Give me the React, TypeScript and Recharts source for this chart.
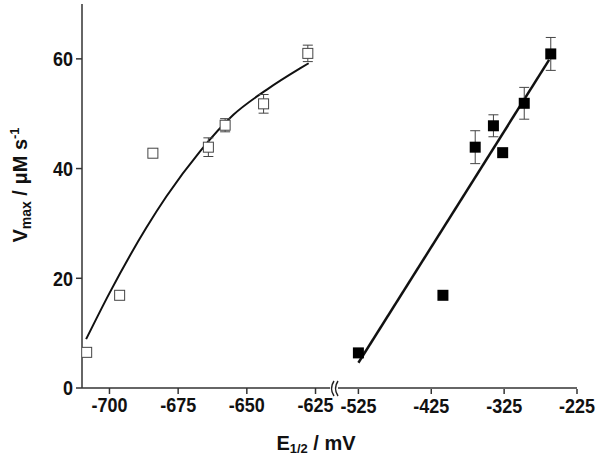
import {
  ComposedChart,
  ErrorBar,
  Label,
  Line,
  Scatter,
  XAxis,
  YAxis,
} from "recharts";

// open squares (left segment)
const openE = [-708.3, -696.3, -684.2, -664, -657.9, -643.9, -627.8];
const openV = [6.5, 16.9, 42.8, 43.9, 47.9, 51.8, 61.0];
const openErr = [null, null, null, 1.7, 1.2, 1.7, 1.5];

// filled squares (right segment)
const fillE = [-525, -409, -364.7, -339.7, -327, -297.4, -261];
const fillV = [6.4, 16.9, 43.9, 47.8, 42.9, 51.9, 60.9];
const fillErr = [null, null, 3, 2, null, 2.9, 3];

// fitted curves
const curveE = [-708.5, -700, -686.6, -679.3, -667.1, -654.9, -642.7, -630.5, -627.5];
const curveV = [8.9, 17.3, 29.2, 34.9, 43.1, 49.8, 54.4, 58.3, 59.2];
const lineE = [-525, -263.3];
const lineV = [4.6, 59.8];

const leftTicks = [-700, -675, -650, -625];
const rightTicks = [-525, -425, -325, -225];
const yTicks = [0, 20, 40, 60];

const zip = (xs: number[], ys: number[], es?: (number | null)[]) =>
  xs.map((x, i) => ({ x, y: ys[i], err: es ? es[i] : null }));

const openPts = zip(openE, openV, openErr);
const fillPts = zip(fillE, fillV, fillErr);
const curve = zip(curveE, curveV);
const fitLine = zip(lineE, lineV);

const font = "'Liberation Sans', Arial, sans-serif";
const axisStroke = { stroke: "#333", strokeWidth: 1.5 };

// tick labels in the original are a bit taller than wide
const StretchTick = (p: any) => {
  const vertical = p.orientation === "left";
  return (
    <g transform={`translate(${p.x},${p.y})`}>
      <text
        transform="scale(1,1.15)"
        textAnchor={vertical ? "end" : "middle"}
        dy={vertical ? "0.355em" : "0.71em"}
        fontFamily={font}
        fontWeight="bold"
        fontSize={18}
        fill="#111"
      >
        {p.payload.value}
      </text>
    </g>
  );
};

const OpenSquare = (p: any) => (
  <rect x={p.cx - 5} y={p.cy - 5} width={10} height={10} fill="#fff" stroke="#444" strokeWidth={1} />
);
const FilledSquare = (p: any) => (
  <rect x={p.cx - 5.5} y={p.cy - 5.5} width={11} height={11} fill="#000" />
);

const YTitle = () => (
  <text
    transform="translate(27,185) rotate(-90)"
    textAnchor="middle"
    fontFamily={font}
    fontWeight="bold"
    fontSize={20}
    fill="#111"
  >
    V<tspan fontSize={14} dy={4}>max</tspan>
    <tspan dy={-4}> / μM s</tspan>
    <tspan fontSize={13} dy={-8}>-1</tspan>
  </text>
);

const XTitle = () => (
  <g>
    <rect x={330} y={385} width={8} height={7} fill="#fff" />
    <path d="M334 381 Q329 388.5 334 396 M338 381 Q333 388.5 338 396" fill="none" stroke="#222" strokeWidth={1.5} />
    <text x={316} y={450} textAnchor="middle" fontFamily={font} fontWeight="bold" fontSize={20} fill="#111">
      E<tspan fontSize={13} dy={3}>1/2</tspan>
      <tspan dy={-3}> / mV</tspan>
    </text>
  </g>
);

export default function App() {
  return (
    <div style={{ position: "absolute", left: 0, top: 0, width: 600, height: 458, background: "#fff" }}>
      <ComposedChart width={600} height={458} margin={{ top: 4, right: 23, left: 0, bottom: 29 }}>
        <XAxis
          xAxisId="L"
          type="number"
          dataKey="x"
          domain={[-710, -619]}
          allowDataOverflow
          ticks={leftTicks}
          padding={{ left: 0, right: 245 }}
          height={1}
          tick={<StretchTick />}
          tickSize={6}
          tickMargin={3}
          axisLine={axisStroke}
          tickLine={axisStroke}
        />
        <XAxis
          xAxisId="R"
          type="number"
          dataKey="x"
          domain={[-553, -225]}
          allowDataOverflow
          ticks={rightTicks}
          padding={{ left: 256, right: 0 }}
          height={40}
          tick={<StretchTick />}
          tickSize={5}
          tickMargin={4}
          axisLine={false}
          tickLine={axisStroke}
        >
          <Label content={XTitle} />
        </XAxis>
        <YAxis
          type="number"
          dataKey="y"
          domain={[0, 70]}
          ticks={yTicks}
          width={82}
          tick={<StretchTick orientation="left" />}
          tickSize={6}
          tickMargin={3}
          axisLine={axisStroke}
          tickLine={axisStroke}
        >
          <Label content={YTitle} />
        </YAxis>
        <Line
          xAxisId="L"
          data={curve}
          dataKey="y"
          type="monotone"
          stroke="#111"
          strokeWidth={2}
          dot={false}
          isAnimationActive={false}
        />
        <Line
          xAxisId="R"
          data={fitLine}
          dataKey="y"
          type="linear"
          stroke="#111"
          strokeWidth={2.5}
          dot={false}
          isAnimationActive={false}
        />
        <Scatter xAxisId="L" data={openPts.filter((d) => d.err == null)} dataKey="y" shape={OpenSquare} isAnimationActive={false} />
        <Scatter xAxisId="L" data={openPts.filter((d) => d.err != null)} dataKey="y" shape={OpenSquare} isAnimationActive={false}>
          <ErrorBar dataKey="err" direction="y" width={5} stroke="#444" strokeWidth={1} />
        </Scatter>
        <Scatter xAxisId="R" data={fillPts.filter((d) => d.err == null)} dataKey="y" shape={FilledSquare} isAnimationActive={false} />
        <Scatter xAxisId="R" data={fillPts.filter((d) => d.err != null)} dataKey="y" shape={FilledSquare} isAnimationActive={false}>
          <ErrorBar dataKey="err" direction="y" width={5} stroke="#444" strokeWidth={1} />
        </Scatter>
      </ComposedChart>
    </div>
  );
}
